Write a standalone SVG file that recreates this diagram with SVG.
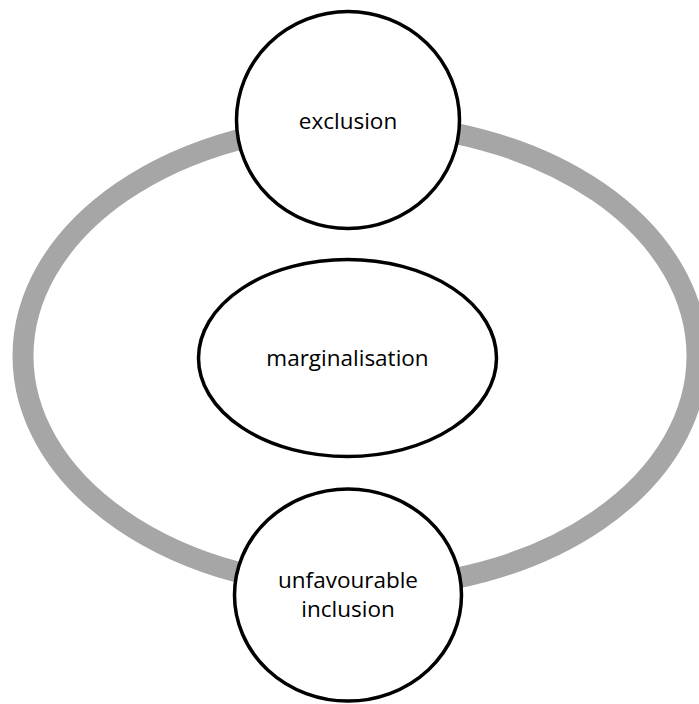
<svg xmlns="http://www.w3.org/2000/svg" width="699" height="704" viewBox="0 0 699 704">
  <style>
    .node { fill: #ffffff; stroke: #000000; stroke-width: 3.5; }
    .ring { fill: none; stroke: #a6a6a6; stroke-width: 21; }
    .label { font-family: "Open Sans", "Liberation Sans", sans-serif; font-size: 22.5px; fill: #000000; text-anchor: middle; }
  </style>
  <rect width="699" height="704" fill="#ffffff"/>
  <g id="connectors">
    <ellipse class="ring" cx="360" cy="356" rx="337" ry="232"/>
  </g>
  <g id="node-exclusion">
    <ellipse class="node" cx="348" cy="120" rx="111.5" ry="108.5"/>
    <text class="label" x="348" y="129">exclusion</text>
  </g>
  <g id="node-marginalisation">
    <ellipse class="node" cx="347.5" cy="358" rx="149" ry="98.5"/>
    <text class="label" x="347.5" y="366">marginalisation</text>
  </g>
  <g id="node-unfavourable-inclusion">
    <ellipse class="node" cx="348" cy="595" rx="113.5" ry="106"/>
    <text class="label" x="348" y="588">unfavourable</text>
    <text class="label" x="348" y="617">inclusion</text>
  </g>
</svg>
